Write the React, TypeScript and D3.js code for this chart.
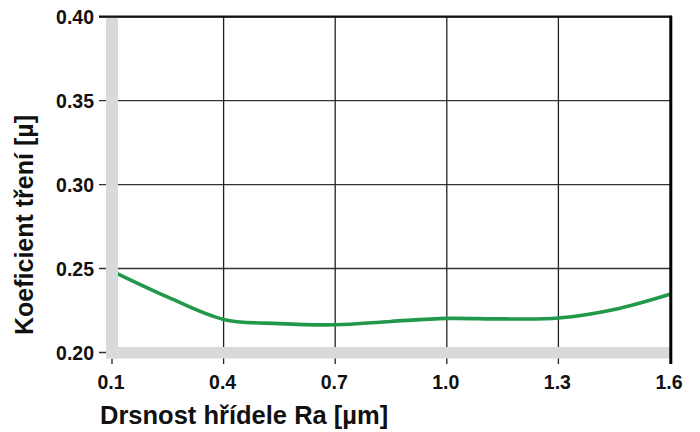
import React from "react";
import * as d3 from "d3";

const xValues = [0.1, 0.25, 0.4, 0.55, 0.7, 0.85, 1.0, 1.15, 1.3, 1.45, 1.6];
const frictionValues = [0.2485, 0.2330, 0.2197, 0.2172, 0.2165, 0.2185, 0.2203, 0.2200, 0.2205, 0.2256, 0.2347];
const xTicks = [0.1, 0.4, 0.7, 1.0, 1.3, 1.6];
const yTicks = [0.2, 0.25, 0.3, 0.35, 0.4];
const xTitle = "Drsnost hřídele Ra [µm]";
const yTitle = "Koeficient tření [µ]";

const W = 700;
const H = 432;
const FONT = "'Liberation Sans', Arial, Helvetica, sans-serif";

export default function App() {
  const x = d3.scaleLinear().domain([0.1, 1.6]).range([112, 670]);
  const y = d3.scaleLinear().domain([0.2, 0.4]).range([352.5, 16.7]);

  const line = d3
    .line<number>()
    .x((_, i) => x(xValues[i]))
    .y((d) => y(d))
    .curve(d3.curveCatmullRom.alpha(0.5));

  const top = y(0.4);
  const bandL0 = 106;
  const bandL1 = 118;
  const bandB0 = 347;
  const bandB1 = 358.5;

  return (
    <svg
      width={W}
      height={H}
      style={{ position: "absolute", left: 0, top: 0, background: "#fff" }}
      fontFamily={FONT}
    >
      {yTicks.map((t) => (
        <line
          key={"h" + t}
          x1={99}
          x2={670}
          y1={y(t)}
          y2={y(t)}
          stroke="#333"
          strokeWidth={1.4}
        />
      ))}
      {xTicks.slice(1, -1).map((t) => (
        <line
          key={"v" + t}
          x1={x(t)}
          x2={x(t)}
          y1={top}
          y2={364}
          stroke="#222"
          strokeWidth={1.3}
        />
      ))}
      <line x1={x(0.1)} x2={x(0.1)} y1={bandB1} y2={364} stroke="#222" strokeWidth={1.3} />
      <path
        d={line(frictionValues) || ""}
        fill="none"
        stroke="#22994a"
        strokeWidth={3.6}
      />
      <rect x={bandL0} y={top + 1} width={bandL1 - bandL0} height={bandB1 - top - 1} fill="#d8d9db" />
      <rect x={bandL0} y={bandB0} width={670 - bandL0} height={bandB1 - bandB0} fill="#d8d9db" />
      <line x1={99} x2={672} y1={top} y2={top} stroke="#111" strokeWidth={2.2} />
      <line x1={670.8} x2={670.8} y1={top - 1} y2={364} stroke="#000" strokeWidth={3} />
      {yTicks.map((t) => (
        <text
          key={"yl" + t}
          x={94}
          y={y(t)}
          dy="0.36em"
          textAnchor="end"
          fontSize={19.5}
          fontWeight="bold"
          fill="#111"
        >
          {t.toFixed(2)}
        </text>
      ))}
      {xTicks.map((t) => (
        <text
          key={"xl" + t}
          x={x(t) - 1}
          y={389}
          textAnchor="middle"
          fontSize={19.5}
          fontWeight="bold"
          fill="#111"
        >
          {t.toFixed(1)}
        </text>
      ))}
      <text x={100} y={424} fontSize={25.5} fontWeight="bold" fill="#111">
        {xTitle}
      </text>
      <text
        transform="translate(33,335) rotate(-90)"
        fontSize={25}
        fontWeight="bold"
        fill="#111"
      >
        {yTitle}
      </text>
    </svg>
  );
}
